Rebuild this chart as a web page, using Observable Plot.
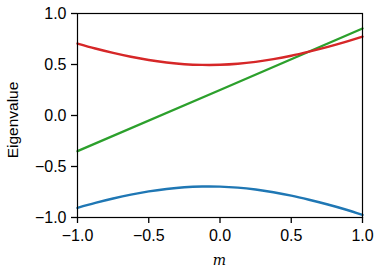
<!DOCTYPE html>
<html>
<head>
<meta charset="utf-8">
<script src="https://cdn.jsdelivr.net/npm/d3@7"></script>
<script src="https://cdn.jsdelivr.net/npm/@observablehq/plot@0.6"></script>
<style>
  html, body { margin: 0; padding: 0; background: #fff; }
  svg { display: block; }
</style>
</head>
<body>
<div id="chart"></div>
<script>
const mValues = [-1, -0.875, -0.75, -0.625, -0.5, -0.375, -0.25, -0.125, 0, 0.125, 0.25, 0.375, 0.5, 0.625, 0.75, 0.875, 1];
const redValues = [0.705, 0.657, 0.614, 0.576, 0.544, 0.520, 0.503, 0.496, 0.497, 0.507, 0.526, 0.553, 0.586, 0.626, 0.670, 0.719, 0.773];
const blueValues = [-0.905, -0.857, -0.814, -0.776, -0.744, -0.720, -0.703, -0.696, -0.697, -0.707, -0.726, -0.753, -0.786, -0.826, -0.870, -0.919, -0.975];
const greenM = [-1, 0, 1];
const greenValues = [-0.35, 0.25, 0.853];
const tickValues = [-1, -0.5, 0, 0.5, 1];
const xLabel = "m";
const yLabel = "Eigenvalue";

const blueData = mValues.map((m, i) => ({m, v: blueValues[i]}));
const redData = mValues.map((m, i) => ({m, v: redValues[i]}));
const greenData = greenM.map((m, i) => ({m, v: greenValues[i]}));

const fmt = d3.format(".1f");
const font = "'Liberation Sans', Arial, Helvetica, sans-serif";

const chart = Plot.plot({
  width: 381,
  height: 277,
  marginLeft: 77,
  marginRight: 19,
  marginTop: 13,
  marginBottom: 60,
  style: {fontFamily: font, fontSize: "16px", color: "#000", background: "#fff"},
  x: {domain: [-1, 1]},
  y: {domain: [-1, 1]},
  marks: [
    Plot.axisX({ticks: tickValues, tickFormat: fmt, tickSize: 6, tickPadding: 6, label: null, fontSize: 16, strokeWidth: 1.3}),
    Plot.axisY({ticks: tickValues, tickFormat: fmt, tickSize: 6, tickPadding: 5, label: null, fontSize: 16, strokeWidth: 1.3}),
    Plot.line(blueData, {x: "m", y: "v", stroke: "#1f77b4", strokeWidth: 2.4, curve: "catmull-rom"}),
    Plot.line(greenData, {x: "m", y: "v", stroke: "#2ca02c", strokeWidth: 2.4}),
    Plot.line(redData, {x: "m", y: "v", stroke: "#d62728", strokeWidth: 2.4, curve: "catmull-rom"}),
    Plot.frame({stroke: "#000", strokeWidth: 1.2})
  ]
});

const svg = d3.select(chart);
svg.append("text")
  .attr("transform", "translate(18,120) rotate(-90)")
  .attr("text-anchor", "middle")
  .attr("font-family", font)
  .attr("font-size", "15.5px")
  .attr("fill", "#000")
  .text(yLabel);
svg.append("text")
  .attr("x", 219.5)
  .attr("y", 265)
  .attr("text-anchor", "middle")
  .attr("font-family", "'DejaVu Serif', 'Liberation Serif', serif")
  .attr("font-style", "italic")
  .attr("font-size", "14px")
  .attr("fill", "#000")
  .text(xLabel);

document.getElementById("chart").appendChild(chart);
</script>
</body>
</html>
